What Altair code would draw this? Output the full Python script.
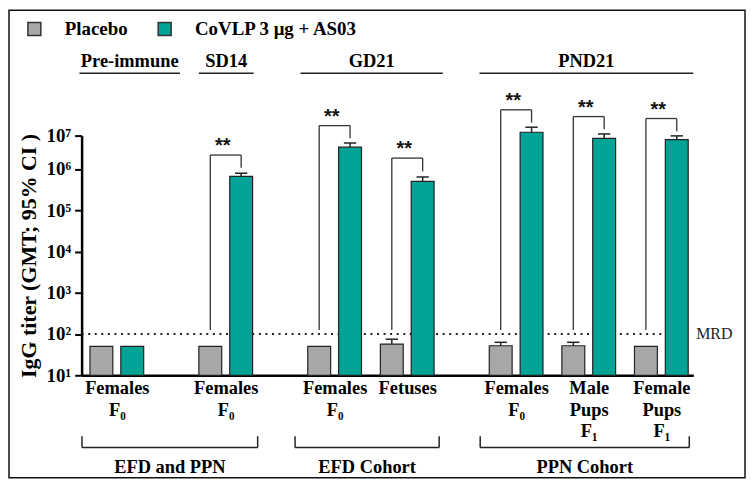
import json
import altair as alt
import pandas as pd

# ---------------- data ----------------
timepoints = ["Pre-immune", "SD14", "GD21", "GD21", "PND21", "PND21", "PND21"]
group_labels = [["Females", "F₀"], ["Females", "F₀"], ["Females", "F₀"], ["Fetuses"],
                ["Females", "F₀"], ["Male", "Pups", "F₁"], ["Female", "Pups", "F₁"]]
series = ["Placebo", "CoVLP 3 μg + AS03"]
placebo_gmt = [50, 50, 50, 57, 52, 52, 50]
placebo_ci_upper = [None, None, None, 75, 63, 63, None]
covlp_gmt = [50, 6.6e5, 4.5e6, 5.0e5, 1.26e7, 8.3e6, 7.6e6]
covlp_ci_upper = [None, 7.9e5, 6.0e6, 6.4e5, 1.78e7, 1.12e7, 9.8e6]
significance = [None, "**", "**", "**", "**", "**", "**"]
header_names = ["Pre-immune", "SD14", "GD21", "PND21"]
cohort_names = ["EFD and PPN", "EFD Cohort", "PPN Cohort"]
mrd_value = 100
mrd_label = "MRD"
y_title = "IgG titer (GMT; 95% CI )"

# ---------------- layout ----------------
slots = [0, 3, 6, 8, 11, 13, 15]
OFF = 0.425      # half distance between paired bars (slot units)
HALF = 0.315     # half bar width
CAP = 0.17       # half error cap width
header_spans = [(-1.03, 1.74), (2.26, 3.77), (5.06, 8.98), (9.99, 15.88)]
cohort_spans = [(-0.96, 3.88), (4.91, 8.88), (10.01, 15.77)]
XMIN, XMAX = -0.97, 15.88
GRAY = "#A7A7A7"
TEAL = "#00A396"
SERIF = "Liberation Serif"

rows = []
for i, s in enumerate(slots):
    for ser, vals, ups, off in [(series[0], placebo_gmt, placebo_ci_upper, -OFF),
                                (series[1], covlp_gmt, covlp_ci_upper, OFF)]:
        c = s + off
        rows.append(dict(series=ser, value=vals[i], base=10, xc=c, x0=c - HALF, x1=c + HALF,
                         cl=c - CAP, cr=c + CAP, upper=ups[i]))
bars = pd.DataFrame(rows)
errs = bars.dropna(subset=["upper"])

segs = []
stars = []
for i, s in enumerate(slots):
    if significance[i] is None:
        continue
    pc, tc = s - OFF, s + OFF
    cap = covlp_ci_upper[i]
    drop = cap * 10 ** 0.14
    top = cap * 10 ** 0.52
    segs += [dict(x=pc, x2=pc, y=125, y2=top), dict(x=pc, x2=tc, y=top, y2=top),
             dict(x=tc, x2=tc, y=drop, y2=top)]
    stars.append(dict(x=s, y=top, text=significance[i]))
segs = pd.DataFrame(segs)
stars = pd.DataFrame(stars)

hdr_line_y = 10 ** 8.865
hdr_text_y = 10 ** 9.045
hdr_segs = pd.DataFrame([dict(x=a, x2=b, y=hdr_line_y, y2=hdr_line_y) for a, b in header_spans])
hdr_text = pd.DataFrame([dict(x=(a + b) / 2, y=hdr_text_y, text=t) for (a, b), t in zip(header_spans, header_names)])

c_top, c_bot, c_txt = 10 ** -0.478, 10 ** -0.75, 10 ** -1.37
coh_segs = []
for a, b in cohort_spans:
    coh_segs += [dict(x=a, x2=a, y=c_top, y2=c_bot), dict(x=a, x2=b, y=c_bot, y2=c_bot),
                 dict(x=b, x2=b, y=c_top, y2=c_bot)]
coh_segs = pd.DataFrame(coh_segs)
coh_text = pd.DataFrame([dict(x=(a + b) / 2, y=c_txt, text=t) for (a, b), t in zip(cohort_spans, cohort_names)])

mrd_df = pd.DataFrame([dict(x=XMIN, x2=15.82, y=mrd_value, tx=15.96, text=mrd_label)])

# ---------------- scales / axes ----------------
xscale = alt.Scale(domain=[XMIN, XMAX], nice=False, zero=False)
yscale = alt.Scale(type="log", domain=[10, 1e6, 1e7], range=[241, 33.6, 0], nice=False)

x_label_expr = json.dumps(group_labels, ensure_ascii=False) + "[indexof(" + json.dumps(slots) + ", datum.value)]"
xaxis = alt.Axis(values=slots, labelExpr=x_label_expr, ticks=False, domainColor="black", domainWidth=2.5,
                 labelFont=SERIF, labelFontWeight="bold", labelFontSize=18.5, labelColor="black",
                 labelPadding=3, labelLineHeight=22, grid=False, title=None, labelAngle=0,
                 labelFlush=False, labelOverlap=False, labelBaseline="top")
sup = json.dumps(["¹", "²", "³", "⁴", "⁵", "⁶", "⁷"], ensure_ascii=False)
yaxis = alt.Axis(values=[10 ** k for k in range(1, 8)],
                 labelExpr="'10' + " + sup + "[round(log(datum.value)/LN10) - 1]",
                 tickSize=7, tickWidth=2, tickColor="black", domainColor="black", domainWidth=2.5,
                 labelFont=SERIF, labelFontWeight="bold", labelFontSize=19, labelColor="black",
                 labelPadding=4, grid=False, title=y_title, titleFont=SERIF, titleFontSize=22,
                 titleFontWeight="bold", titleColor="black", titlePadding=6,
                 labelFlush=False, labelOverlap=False)


def X(f):
    return alt.X(f, type="quantitative", scale=xscale, axis=xaxis)


def Y(f):
    return alt.Y(f, type="quantitative", scale=yscale, axis=yaxis)


mrd_line = alt.Chart(mrd_df).mark_rule(strokeDash=[2, 4.6], strokeWidth=2, color="#222", clip=False).encode(
    x=X("x"), x2="x2", y=Y("y"))
mrd_text = alt.Chart(mrd_df).mark_text(font=SERIF, fontSize=16, align="left", baseline="middle",
                                       color="#222", clip=False).encode(x=X("tx"), y=Y("y"), text="text")

bar_layer = alt.Chart(bars).mark_bar(stroke="#222", strokeWidth=1.2, clip=False).encode(
    x=X("x0"), x2="x1", y=Y("value"), y2="base",
    color=alt.Color("series:N", scale=alt.Scale(domain=series, range=[GRAY, TEAL]),
                    legend=alt.Legend(orient="none", legendX=-57, legendY=-117, direction="horizontal",
                                      title=None, symbolType="square", symbolSize=170,
                                      symbolStrokeColor="#333", symbolStrokeWidth=1.5,
                                      labelFont=SERIF, labelFontSize=19, labelFontWeight="bold",
                                      labelColor="black", labelOffset=21, columnPadding=26, padding=0,
                                      labelLimit=400, symbolOpacity=1)))
err_stem = alt.Chart(errs).mark_rule(color="#222", strokeWidth=1.5, clip=False).encode(
    x=X("xc"), y=Y("value"), y2="upper")
err_cap = alt.Chart(errs).mark_rule(color="#222", strokeWidth=1.5, clip=False).encode(
    x=X("cl"), x2="cr", y=Y("upper"))

brackets = alt.Chart(segs).mark_rule(color="#333", strokeWidth=1.3, clip=False).encode(
    x=X("x"), x2="x2", y=Y("y"), y2="y2")
star_text = alt.Chart(stars).mark_text(font="Liberation Sans", fontSize=20, fontWeight="bold",
                                       baseline="alphabetic", align="center", dx=-3, dy=-3,
                                       color="#111", clip=False).encode(x=X("x"), y=Y("y"), text="text")

hdr_rules = alt.Chart(hdr_segs).mark_rule(color="#222", strokeWidth=1.3, clip=False).encode(
    x=X("x"), x2="x2", y=Y("y"))
hdr_labels = alt.Chart(hdr_text).mark_text(font=SERIF, fontSize=18.5, fontWeight="bold", baseline="alphabetic",
                                           align="center", color="black", clip=False).encode(
    x=X("x"), y=Y("y"), text="text")

coh_rules = alt.Chart(coh_segs).mark_rule(color="#222", strokeWidth=1.5, clip=False).encode(
    x=X("x"), x2="x2", y=Y("y"), y2="y2")
coh_labels = alt.Chart(coh_text).mark_text(font=SERIF, fontSize=18.5, fontWeight="bold", baseline="alphabetic",
                                           align="center", color="black", clip=False).encode(
    x=X("x"), y=Y("y"), text="text")

frame = alt.Chart(pd.DataFrame({"k": [0]})).mark_rect(fillOpacity=0, stroke="#111", strokeWidth=1.5,
                                                      clip=False).encode(
    x=alt.value(-73), x2=alt.value(667), y=alt.value(-126), y2=alt.value(344))

chart = alt.layer(mrd_line, mrd_text, bar_layer, err_stem, err_cap, brackets, star_text,
                  hdr_rules, hdr_labels, coh_rules, coh_labels, frame).properties(
    width=615, height=241,
    padding={"left": 74, "top": 127, "right": 53, "bottom": 104},
    autosize=alt.AutoSizeParams(type="none"),
    background="white",
).configure_view(stroke=None)

chart.save("out.html", embed_options={"renderer": "svg", "actions": False})
